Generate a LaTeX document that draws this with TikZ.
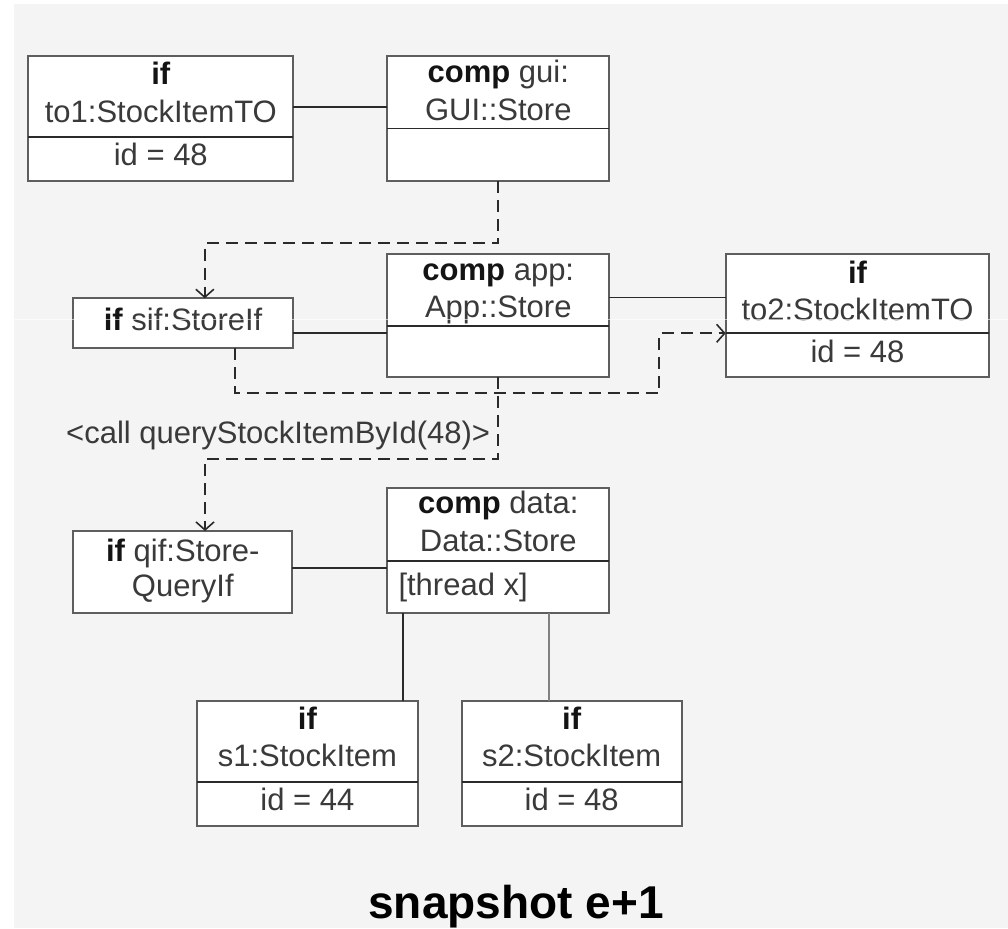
\documentclass[tikz,border=0pt]{standalone}
\usepackage{fontspec}
\setmainfont{Liberation Sans}
\usetikzlibrary{arrows.meta}
\definecolor{bgc}{HTML}{F4F4F4}
\definecolor{framec}{HTML}{5E5E5E}
\definecolor{wirec}{HTML}{2A2A2A}
\definecolor{inkc}{HTML}{3A3A3A}
\definecolor{inkbc}{HTML}{141414}
\newcommand\kwd[1]{\textcolor{inkbc}{\textbf{#1}}}
\begin{document}
\begin{tikzpicture}[x=1pt,y=-1pt,
  objbox/.style={draw=framec, fill=white, line width=2pt, inner sep=0pt, outer sep=0pt, rectangle},
  divider/.style={draw=wirec, line width=1.8pt},
  txt/.style={anchor=base, inner sep=0pt, text=inkc, font=\fontsize{31}{36}\selectfont},
  link/.style={draw=wirec, line width=1.8pt},
  dlink/.style={draw=wirec, line width=1.8pt, dash pattern=on 12pt off 7pt},
  tip/.style={-{Straight Barb[length=8pt,width=18pt,line width=1.6pt]}}
]
\useasboundingbox (0,0) rectangle (1008,928);
\fill[white] (0,0) rectangle (1008,928);
\fill[bgc] (13.5,4) rectangle (1008,928);

% object boxes
\node[objbox, minimum width=265, minimum height=124.8] (to1) at (160.8,118.1) {};
\node[objbox, minimum width=222, minimum height=125.3] (gui) at (498.3,118.35) {};
\node[objbox, minimum width=219.3, minimum height=50] (sif) at (183.05,323.3) {};
\node[objbox, minimum width=222, minimum height=123.3] (app) at (498.3,315.65) {};
\node[objbox, minimum width=263.6, minimum height=122.7] (to2) at (857.5,315.35) {};
\node[objbox, minimum width=219, minimum height=81.7] (qif) at (182.8,571.85) {};
\node[objbox, minimum width=222, minimum height=124.4] (data) at (498.3,550.5) {};
\node[objbox, minimum width=220.2, minimum height=125.2] (s1) at (307.4,763.1) {};
\node[objbox, minimum width=220, minimum height=125.2] (s2) at (571.7,763.1) {};

% compartment dividers
\draw[divider] (to1.west |- 0,136.7) -- (to1.east |- 0,136.7);
\draw[divider] (gui.west |- 0,128.5) -- (gui.east |- 0,128.5);
\draw[divider] (app.west |- 0,325.7) -- (app.east |- 0,325.7);
\draw[divider] (to2.west |- 0,333.3) -- (to2.east |- 0,333.3);
\draw[divider] (data.west |- 0,561) -- (data.east |- 0,561);
\draw[divider] (s1.west |- 0,781.7) -- (s1.east |- 0,781.7);
\draw[divider] (s2.west |- 0,781.7) -- (s2.east |- 0,781.7);

% box texts
\node[txt] (to1a) at (160.8,85) {\kwd{if}};
\node[txt] (to1b) at (160.8,123) {to1:StockItemTO};
\node[txt] (to1c) at (160.8,166) {id = 48};
\node[txt] (guia) at (498.3,83) {\kwd{comp} gui:};
\node[txt] (guib) at (498.3,120.5) {GUI::Store};
\node[txt] (sifa) at (183.05,330) {\kwd{if} sif:StoreIf};
\node[txt] (appa) at (498.3,280) {\kwd{comp} app:};
\node[txt] (appb) at (498.3,317.3) {App::Store};
\node[txt] (to2a) at (857.5,283.3) {\kwd{if}};
\node[txt] (to2b) at (857.5,320) {to2:StockItemTO};
\node[txt] (to2c) at (857.5,362.7) {id = 48};
\node[txt] (qifa) at (182.8,561.7) {\kwd{if} qif:Store-};
\node[txt] (qifb) at (182.8,596) {QueryIf};
\node[txt] (dataa) at (498.3,513.3) {\kwd{comp} data:};
\node[txt] (datab) at (498.3,551) {Data::Store};
\node[txt, anchor=base west] (datac) at (398.3,595) {[thread x]};
\node[txt] (s1a) at (307.4,729.3) {\kwd{if}};
\node[txt] (s1b) at (307.4,766.7) {s1:StockItem};
\node[txt] (s1c) at (307.4,810.7) {id = 44};
\node[txt] (s2a) at (571.7,729.3) {\kwd{if}};
\node[txt] (s2b) at (571.7,766.7) {s2:StockItem};
\node[txt] (s2c) at (571.7,810.7) {id = 48};

% solid links
\draw[link] (to1.east |- 0,107.3) -- (gui.west |- 0,107.3);
\draw[link] (sif.east |- 0,333.3) -- (app.west |- 0,333.3);
\draw[link] (app.east |- 0,297.5) -- (to2.west |- 0,297.5);
\draw[link] (qif.east |- 0,568.3) -- (data.west |- 0,568.3);
\draw[link] (data.south -| 403.3,0) -- (s1.north -| 403.3,0);
\draw[link, draw=gray] (data.south -| 549.3,0) -- (s2.north -| 549.3,0);

% dashed call paths
\coordinate (g1) at (498.3,243.3);
\coordinate (g2) at (204.8,243.3);
\draw[dlink, tip] (gui.south) -- (g1) -- (g2) -- (g2 |- sif.north);

\coordinate (r1) at (234.9,393.3);
\coordinate (r2) at (659.2,393.3);
\coordinate (r3) at (659.2,333.3);
\draw[dlink, tip] (sif.south -| r1) -- (r1) -- (r2) -- (r3) -- (to2.west |- r3);

\coordinate (q1) at (498.3,459.3);
\coordinate (q2) at (205,459.3);
\draw[dlink, tip] (app.south) -- (q1) -- (q2) -- (q2 |- qif.north);

\node[txt, anchor=base west] (callmsg) at (66,443) {<call queryStockItemById(48)>};

% caption
\node[anchor=base, inner sep=0pt, text=black, font=\fontsize{46}{52}\selectfont\bfseries] (caption) at (516,918) {snapshot e+1};

% faint scan line
\draw[white, line width=1pt, opacity=0.6] (13.5,319) -- (1008,319);
\end{tikzpicture}
\end{document}
